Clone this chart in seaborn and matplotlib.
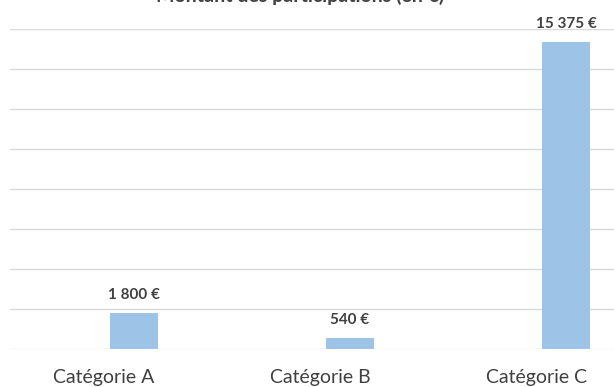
import matplotlib
matplotlib.use("Agg")
import matplotlib.pyplot as plt
import matplotlib.transforms as mtransforms
import seaborn as sns
import pandas as pd

categories = ["Catégorie A", "Catégorie B", "Catégorie C"]
values = [1800, 540, 15375]
labels = ["1 800 €", "540 €", "15 375 €"]
title = "Montant des participations (en €)"

sns.set_theme(style="white")
plt.rcParams['font.family'] = ['Lato', 'DejaVu Sans']

W, H = 614, 387
fig = plt.figure(figsize=(W / 100, H / 100), dpi=100)
ax = fig.add_axes([10 / W, 1 - 349 / H, (614 - 10) / W, (349 - 29) / H])

df = pd.DataFrame({"cat": categories, "val": values})
sns.barplot(data=df, x="cat", y="val", color="#9dc3e6", width=0.222, ax=ax,
            saturation=1, edgecolor="none")

ax.set_ylim(0, 16000)
ax.set_xlim(-0.574, 2.222)
ax.set_yticks(range(0, 16001, 2000))
ax.yaxis.grid(True, color="#d9d9d9", linewidth=1)
ax.set_axisbelow(True)
ax.tick_params(axis="y", left=False, labelleft=False)
ax.tick_params(axis="x", bottom=False, labelbottom=False)
for s in ax.spines.values():
    s.set_visible(False)
ax.set_xlabel("")
ax.set_ylabel("")

trans = mtransforms.blended_transform_factory(ax.transData, fig.transFigure)
for i, c in enumerate(categories):
    ax.text(i - 0.139, 1 - 383 / H, c, transform=trans, ha="center",
            va="baseline", fontsize=14, color="#404040")

for i, (v, t) in enumerate(zip(values, labels)):
    ax.annotate(t, (i, v), xytext=(0, 10), textcoords="offset points",
                ha="center", va="baseline", fontsize=11, fontweight="bold",
                color="#404040", annotation_clip=False)

fig.text(300 / W, 1 - 1.5 / H, title, ha="center", va="baseline",
         fontsize=14, fontweight="bold", color="#404040")

fig.savefig("out.png", dpi=100)
